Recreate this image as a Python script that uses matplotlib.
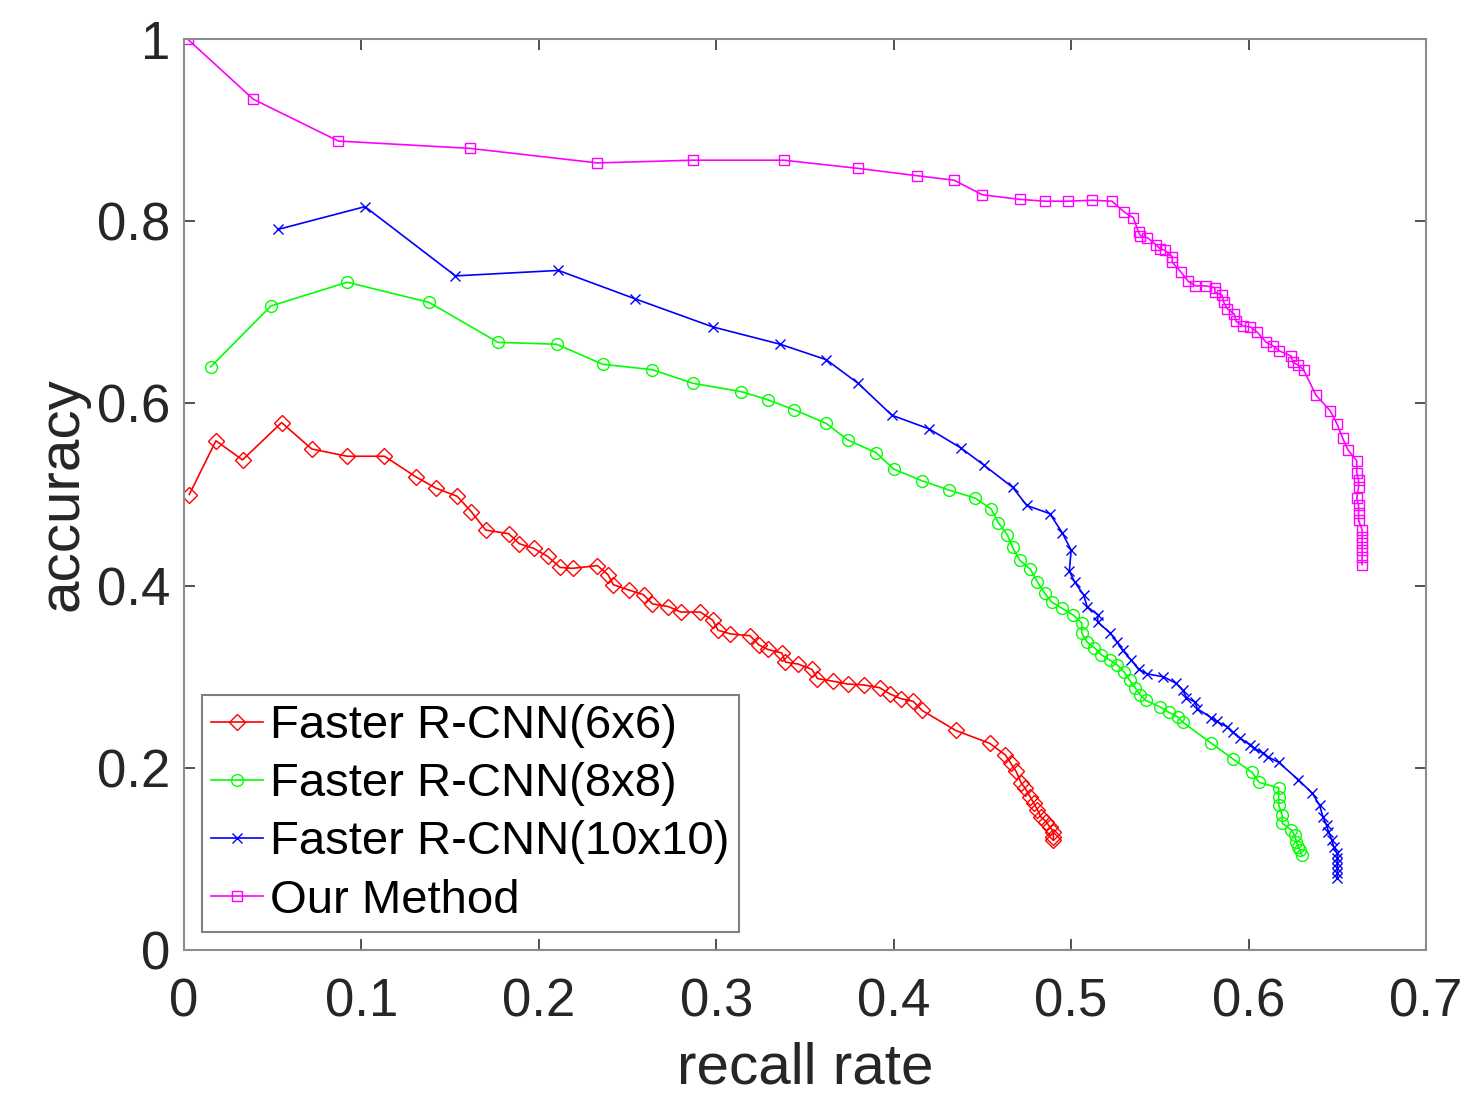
import numpy as np
import matplotlib
matplotlib.use("Agg")
import matplotlib.pyplot as plt

plt.rcParams['font.family'] = ['Liberation Sans', 'DejaVu Sans']

labels = ['Faster R-CNN(6x6)', 'Faster R-CNN(8x8)', 'Faster R-CNN(10x10)', 'Our Method']

# Faster R-CNN(6x6)
recall_6 = [0.003, 0.018, 0.033, 0.055, 0.072, 0.092, 0.113, 0.131, 0.142, 0.154, 0.162, 0.170,
            0.183, 0.189, 0.197, 0.205, 0.212, 0.219, 0.233, 0.239, 0.242, 0.251, 0.259, 0.264,
            0.273, 0.280, 0.291, 0.298, 0.301, 0.308, 0.319, 0.324, 0.329, 0.337, 0.339, 0.346,
            0.354, 0.357, 0.366, 0.374, 0.383, 0.392, 0.398, 0.404, 0.411, 0.416, 0.435, 0.454,
            0.463, 0.466, 0.469, 0.472, 0.474, 0.477, 0.479, 0.481, 0.483, 0.486, 0.488, 0.490,
            0.490, 0.490]
acc_6 = [0.500, 0.559, 0.538, 0.579, 0.550, 0.542, 0.542, 0.519, 0.507, 0.498, 0.481, 0.461,
         0.457, 0.446, 0.441, 0.432, 0.420, 0.419, 0.422, 0.412, 0.401, 0.395, 0.390, 0.380,
         0.377, 0.371, 0.371, 0.362, 0.351, 0.347, 0.345, 0.335, 0.330, 0.326, 0.316, 0.314,
         0.308, 0.298, 0.295, 0.292, 0.291, 0.288, 0.281, 0.276, 0.273, 0.263, 0.241, 0.227,
         0.214, 0.205, 0.196, 0.183, 0.178, 0.168, 0.161, 0.154, 0.146, 0.141, 0.135, 0.130,
         0.124, 0.121]

# Faster R-CNN(8x8)
recall_8 = [0.015, 0.049, 0.092, 0.138, 0.177, 0.210, 0.236, 0.264, 0.287, 0.314, 0.329, 0.344,
            0.362, 0.374, 0.390, 0.400, 0.416, 0.431, 0.446, 0.455, 0.459, 0.464, 0.467, 0.471,
            0.477, 0.481, 0.485, 0.489, 0.495, 0.501, 0.506, 0.506, 0.509, 0.513, 0.517, 0.522,
            0.526, 0.530, 0.533, 0.536, 0.539, 0.542, 0.550, 0.555, 0.560, 0.563, 0.579, 0.591,
            0.602, 0.606, 0.617, 0.617, 0.617, 0.619, 0.619, 0.624, 0.626, 0.627, 0.628, 0.629,
            0.630]
acc_8 = [0.640, 0.707, 0.733, 0.711, 0.667, 0.665, 0.643, 0.637, 0.622, 0.613, 0.604, 0.593,
         0.578, 0.560, 0.546, 0.528, 0.515, 0.505, 0.496, 0.484, 0.469, 0.456, 0.442, 0.428,
         0.418, 0.404, 0.392, 0.382, 0.375, 0.368, 0.359, 0.348, 0.338, 0.332, 0.324, 0.318,
         0.313, 0.305, 0.296, 0.288, 0.280, 0.274, 0.267, 0.261, 0.256, 0.250, 0.227, 0.210,
         0.195, 0.184, 0.178, 0.168, 0.159, 0.148, 0.139, 0.132, 0.126, 0.119, 0.113, 0.110,
         0.104]

# Faster R-CNN(10x10)
recall_10 = [0.053, 0.102, 0.153, 0.211, 0.254, 0.298, 0.336, 0.362, 0.380, 0.399, 0.420, 0.438,
             0.451, 0.467, 0.475, 0.488, 0.495, 0.500, 0.499, 0.502, 0.507, 0.509, 0.515, 0.515,
             0.522, 0.526, 0.529, 0.534, 0.538, 0.543, 0.552, 0.559, 0.563, 0.565, 0.570, 0.571,
             0.579, 0.582, 0.588, 0.591, 0.595, 0.601, 0.603, 0.608, 0.611, 0.617, 0.628, 0.636,
             0.640, 0.642, 0.644, 0.645, 0.647, 0.648, 0.650, 0.650, 0.650, 0.650, 0.650, 0.650]
acc_10 = [0.791, 0.816, 0.740, 0.746, 0.715, 0.684, 0.665, 0.648, 0.622, 0.587, 0.572, 0.551,
          0.532, 0.508, 0.488, 0.479, 0.458, 0.439, 0.416, 0.404, 0.390, 0.377, 0.368, 0.360,
          0.348, 0.338, 0.329, 0.318, 0.308, 0.303, 0.300, 0.293, 0.285, 0.277, 0.272, 0.265,
          0.255, 0.251, 0.245, 0.239, 0.233, 0.225, 0.222, 0.216, 0.212, 0.206, 0.187, 0.172,
          0.159, 0.146, 0.137, 0.130, 0.121, 0.113, 0.106, 0.101, 0.096, 0.090, 0.085, 0.079]

# Our Method
recall_ours = [0.002, 0.039, 0.087, 0.161, 0.233, 0.287, 0.338, 0.380, 0.413, 0.434, 0.450, 0.471,
               0.485, 0.498, 0.512, 0.523, 0.530, 0.535, 0.538, 0.539, 0.543, 0.548, 0.550, 0.553,
               0.557, 0.557, 0.562, 0.566, 0.570, 0.576, 0.581, 0.581, 0.585, 0.586, 0.588, 0.592,
               0.593, 0.597, 0.601, 0.605, 0.610, 0.614, 0.617, 0.624, 0.625, 0.628, 0.631, 0.638,
               0.646, 0.650, 0.653, 0.656, 0.661, 0.661, 0.662, 0.662, 0.661, 0.662, 0.662, 0.662,
               0.664, 0.664, 0.664, 0.664, 0.664, 0.664]
acc_ours = [1.000, 0.934, 0.888, 0.880, 0.864, 0.867, 0.867, 0.858, 0.850, 0.845, 0.829, 0.824,
            0.822, 0.822, 0.823, 0.822, 0.810, 0.804, 0.788, 0.784, 0.782, 0.774, 0.770, 0.768,
            0.761, 0.755, 0.744, 0.734, 0.729, 0.729, 0.727, 0.722, 0.719, 0.711, 0.704, 0.698,
            0.690, 0.685, 0.684, 0.678, 0.667, 0.663, 0.658, 0.652, 0.645, 0.642, 0.637, 0.609,
            0.592, 0.577, 0.562, 0.549, 0.537, 0.524, 0.516, 0.508, 0.496, 0.488, 0.480, 0.472,
            0.461, 0.453, 0.447, 0.439, 0.431, 0.423]

fig = plt.figure(figsize=(14.66, 10.93), dpi=100)
ax = fig.add_axes([0.1255, 0.1308, 0.8472, 0.8335])

ax.plot(recall_6, acc_6, color='#ff0000', marker='D', markersize=8, markerfacecolor='none',
        markeredgewidth=1.0, linewidth=1.2, label=labels[0])
ax.plot(recall_8, acc_8, color='#00ff00', marker='o', markersize=8.5, markerfacecolor='none',
        markeredgewidth=1.0, linewidth=1.2, label=labels[1])
ax.plot(recall_10, acc_10, color='#0000ff', marker='x', markersize=7, markeredgewidth=1.0,
        linewidth=1.2, label=labels[2])
ax.plot(recall_ours, acc_ours, color='#ff00ff', marker='s', markersize=6.5, markerfacecolor='none',
        markeredgewidth=1.0, linewidth=1.2, label=labels[3])

ax.set_xlim(0, 0.7)
ax.set_ylim(0, 1)
ax.set_xticks([0, 0.1, 0.2, 0.3, 0.4, 0.5, 0.6, 0.7])
ax.set_xticklabels(['0', '0.1', '0.2', '0.3', '0.4', '0.5', '0.6', '0.7'])
ax.set_yticks([0, 0.2, 0.4, 0.6, 0.8, 1])
ax.set_yticklabels(['0', '0.2', '0.4', '0.6', '0.8', '1'])

ax.tick_params(axis='both', direction='in', top=True, right=True, length=8, width=1.2,
               color='0.2', labelsize=38, labelcolor='0.15')
ax.tick_params(axis='x', pad=20)
ax.tick_params(axis='y', pad=10)
for sp in ax.spines.values():
    sp.set_color('0.55')
    sp.set_linewidth(1.5)

ax.set_xlabel('recall rate', fontsize=42, color='0.15', labelpad=10)
ax.set_ylabel('accuracy', fontsize=42, color='0.15', labelpad=5)

leg = ax.legend(loc='lower left', bbox_to_anchor=(0.0145, 0.0198), fontsize=34, numpoints=1,
                handlelength=1.1, handletextpad=0.15, labelspacing=0.3, borderpad=0.2,
                borderaxespad=0, fancybox=False, framealpha=1, edgecolor='0.5')
leg.get_frame().set_linewidth(1.5)

fig.savefig('out.png', dpi=100)
